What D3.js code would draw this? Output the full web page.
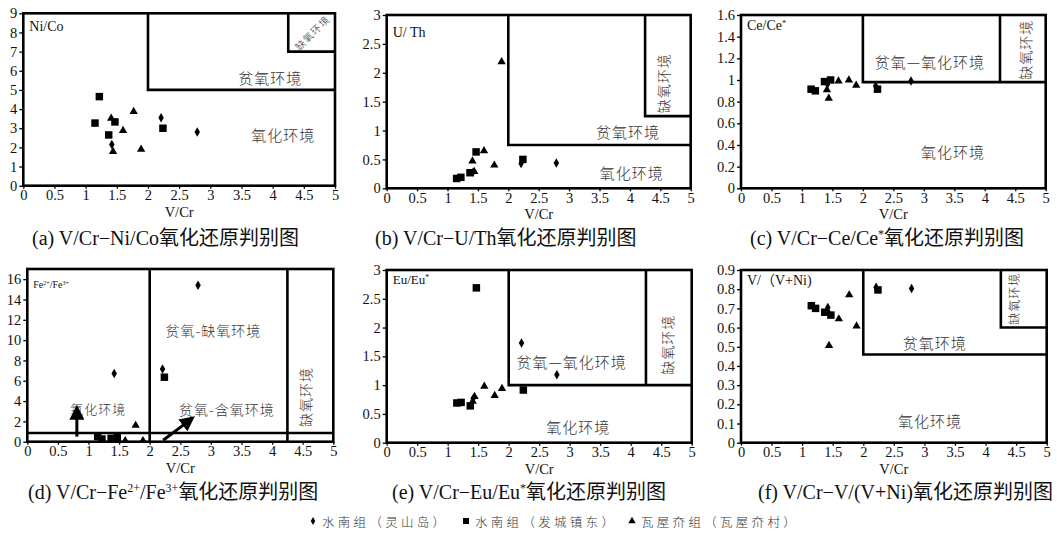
<!DOCTYPE html>
<html><head><meta charset="utf-8">
<script src="https://cdn.jsdelivr.net/npm/d3@7"></script>
<style>
body{margin:0;background:#fff;}
svg{display:block;}
.serif{font-family:"Liberation Serif","DejaVu Serif","Noto Sans CJK SC",serif;}
.cjk{font-family:"Noto Sans CJK SC",sans-serif;}
</style></head><body>
<svg id="fig" width="1057" height="538"></svg>
<script>
// V/Cr of each sample group (shared horizontal variable of all six diagrams)
const vcrLingshan = [1.42, 2.21, 2.79];             // 水南组（灵山岛）
const vcrFacheng  = [1.15, 1.22, 1.37, 1.47, 2.24]; // 水南组（发城镇东）
const vcrWawu     = [1.41, 1.44, 1.60, 1.77, 1.89]; // 瓦屋夼组（瓦屋夼村）

// (a) Ni/Co
const niCoLingshan = [2.15, 3.55, 2.80];
const niCoFacheng  = [3.27, 4.65, 2.65, 3.33, 3.00];
const niCoWawu     = [3.52, 1.78, 2.88, 3.87, 1.90];
// (b) U/Th
const uThLingshan = [0.28, 0.43, 0.44];
const uThFacheng  = [0.17, 0.19, 0.27, 0.63, 0.50];
const uThWawu     = [0.47, 0.29, 0.65, 0.40, 2.19];
// (c) Ce/Ce*
const ceLingshan = [0.96, 0.945, 0.99];
const ceFacheng  = [0.915, 0.90, 0.985, 1.00, 0.915];
const ceWawu     = [0.91, 0.83, 0.99, 1.00, 0.95];
// (d) Fe2+/Fe3+
const feLingshan = [6.72, 7.15, 15.4];
const feFacheng  = [0.50, 0.26, 0.33, 0.43, 6.35];
const feWawu     = [0.20, 0.12, 0.10, 1.60, 0.10];
// (e) Eu/Eu*
const euLingshan = [0.77, 1.73, 1.18];
const euFacheng  = [0.69, 0.70, 0.64, 2.69, 0.915];
const euWawu     = [0.72, 0.80, 0.98, 0.82, 0.94];
// (f) V/(V+Ni)
const vvniLingshan = [0.705, 0.81, 0.804];
const vvniFacheng  = [0.714, 0.70, 0.68, 0.665, 0.796];
const vvniWawu     = [0.69, 0.506, 0.645, 0.77, 0.608];

const xTicks = [0, 0.5, 1, 1.5, 2, 2.5, 3, 3.5, 4, 4.5, 5];
const yTicksA = [0,1,2,3,4,5,6,7,8,9];
const yTicksB = [0,0.5,1,1.5,2,2.5,3];
const yTicksC = [0,0.2,0.4,0.6,0.8,1,1.2,1.4,1.6];
const yTicksD = [0,2,4,6,8,10,12,14,16];
const yTicksE = [0,0.5,1,1.5,2,2.5,3];
const yTicksF = [0,0.1,0.2,0.3,0.4,0.5,0.6,0.7,0.8,0.9];

// boundary lines between redox fields, in data units
const zonesA = [[[2,9],[2,5],[5,5]], [[4.25,9],[4.25,7],[5,7]]];
const zonesB = [[[2,3],[2,0.75],[5,0.75]], [[4.25,3],[4.25,1.25],[5,1.25]]];
const zonesC = [[[2,1.6],[2,0.98],[5,0.98]], [[4.25,1.6],[4.25,0.98]]];
const zonesD = [[[2,0],[2,17]], [[4.25,0],[4.25,17]], [[0,0.85],[5,0.85]]];
const zonesE = [[[2,3],[2,1],[5,1]], [[4.25,3],[4.25,1]]];
const zonesF = [[[2,0.9],[2,0.46],[5,0.46]], [[4.25,0.9],[4.25,0.6],[5,0.6]]];

// field names: text, x, y, rotation
const namesA = [["贫氧环境",3.96,5.67,0],["氧化环境",4.17,2.65,0],["缺氧环境",4.63,8.0,-45]];
const namesB = [["贫氧环境",3.97,0.98,0],["氧化环境",4.03,0.27,0],["缺氧环境",4.55,1.82,-90]];
const namesC = [["贫氧—氧化环境",3.1,1.17,0],["缺氧环境",4.66,1.28,-90],["氧化环境",3.48,0.34,0]];
const namesD = [["贫氧-缺氧环境",3.04,10.98,0],["氧化环境",1.16,3.28,0],["贫氧-含氧环境",3.26,3.2,0],["缺氧环境",4.54,4.4,-90]];
const namesE = [["贫氧—氧化环境",3.03,1.41,0],["氧化环境",3.14,0.28,0],["缺氧环境",4.59,1.7,-90]];
const namesF = [["贫氧环境",3.17,0.52,0],["氧化环境",3.09,0.118,0],["缺氧环境",4.45,0.75,-90]];

// trend arrows of diagram (d)
const arrowsD = [[[0.81,0.5],[0.81,2.9]], [[2.22,0.15],[2.64,2.05]]];

const captionsTop = [
  [["(a) V/Cr−Ni/Co氧化还原判别图"]],
  [["(b) V/Cr−U/Th氧化还原判别图"]],
  [["(c) V/Cr−Ce/Ce"],["*",1],["氧化还原判别图"]]
];
const captionsBottom = [
  [["(d) V/Cr−Fe"],["2+",1],["/Fe"],["3+",1],["氧化还原判别图"]],
  [["(e) V/Cr−Eu/Eu"],["*",1],["氧化还原判别图"]],
  [["(f) V/Cr−V/(V+Ni)氧化还原判别图"]]
];
const legendNames = ["水南组（灵山岛）", "水南组（发城镇东）", "瓦屋夼组（瓦屋夼村）"];

const panels = [
  {box:[23.3,335,13.3,185.7], ymax:9, yt:yTicksA, zones:zonesA, names:namesA, nameSize:[15,15,10],
   title:[["Ni/Co"]], titleSize:14, titleDy:18,
   series:[niCoLingshan,niCoFacheng,niCoWawu]},
  {box:[386.7,690.7,15,188.3], ymax:3, yt:yTicksB, zones:zonesB, names:namesB, nameSize:[15,15,14],
   title:[["U/ Th"]], titleSize:14, titleDy:22,
   series:[uThLingshan,uThFacheng,uThWawu]},
  {box:[741,1045.7,15,188.3], ymax:1.6, yt:yTicksC, zones:zonesC, names:namesC, nameSize:[15,14,15],
   title:[["Ce/Ce"],["*",1]], titleSize:14, titleDy:15,
   series:[ceLingshan,ceFacheng,ceWawu]},
  {box:[27.3,333.3,269,441.7], ymax:17, yt:yTicksD, zones:zonesD, names:namesD, nameSize:[14,13,14,14],
   title:[["Fe"],["2+",1],["/Fe"],["3+",1]], titleSize:10, titleDy:19,
   series:[feLingshan,feFacheng,feWawu], arrows:arrowsD},
  {box:[386.7,691.7,270,442.7], ymax:3, yt:yTicksE, zones:zonesE, names:namesE, nameSize:[15,15,14],
   title:[["Eu/Eu"],["*",1]], titleSize:13, titleDy:14,
   series:[euLingshan,euFacheng,euWawu]},
  {box:[741,1046.7,270,442.7], ymax:0.9, yt:yTicksF, zones:zonesF, names:namesF, nameSize:[15,15,12],
   title:[["V/（V+Ni)"]], titleSize:14, titleDy:15,
   series:[vvniLingshan,vvniFacheng,vvniWawu]}
];

const xSets = [vcrLingshan, vcrFacheng, vcrWawu];
const symbolTypes = [d3.symbolDiamond, d3.symbolSquare, d3.symbolTriangle];
const symbols = [
  d3.symbol().type(d3.symbolDiamond).size(26),
  d3.symbol().type(d3.symbolSquare).size(56),
  d3.symbol().type(d3.symbolTriangle).size(30)
];

const svg = d3.select("#fig");

svg.append("defs").append("marker")
  .attr("id","head").attr("viewBox","0 0 10 10").attr("refX",5).attr("refY",5)
  .attr("markerWidth",5).attr("markerHeight",5).attr("orient","auto")
  .append("path").attr("d","M0,0 L10,5 L0,10 Z").attr("fill","#000");

// text with optional superscript segments
function richText(sel, parts, size) {
  parts.forEach(p => {
    const t = sel.append("tspan").text(p[0]);
    if (p[1]) t.attr("baseline-shift","super").style("font-size", (size*0.6)+"px");
  });
}

panels.forEach(p => {
  const [l, r, t, b] = p.box;
  const x = d3.scaleLinear().domain([0,5]).range([l,r]);
  const y = d3.scaleLinear().domain([0,p.ymax]).range([b,t]);
  const g = svg.append("g");

  const xa = g.append("g").attr("transform",`translate(0,${b})`)
    .call(d3.axisBottom(x).tickValues(xTicks).tickFormat(d3.format("~g")).tickSize(3).tickPadding(1));
  const ya = g.append("g").attr("transform",`translate(${l},0)`)
    .call(d3.axisLeft(y).tickValues(p.yt).tickFormat(d3.format("~g")).tickSize(4).tickPadding(2));
  [xa, ya].forEach(a => {
    a.attr("font-family",null).attr("font-size",null);
    a.select(".domain").remove();
    a.selectAll("line").attr("stroke","#000").attr("stroke-width",1.3);
    a.selectAll("text").attr("class","serif").style("font-size","14.5px").attr("fill","#111");
  });

  g.append("text").attr("class","serif").attr("x",(l+r)/2).attr("y",b+31).attr("text-anchor","middle")
    .style("font-size","14.5px").attr("fill","#111").text("V/Cr");

  const tt = g.append("text").attr("class","serif").attr("x",l+6).attr("y",t+p.titleDy)
    .style("font-size",p.titleSize+"px").attr("fill","#111");
  richText(tt, p.title, p.titleSize);

  const line = d3.line().x(d => x(d[0])).y(d => y(d[1]));
  g.selectAll(".zone").data(p.zones).join("path")
    .attr("d", line).attr("fill","none").attr("stroke","#000").attr("stroke-width",2.6);

  g.selectAll(".name").data(p.names).join("text")
    .attr("class","cjk")
    .attr("transform", d => `translate(${x(d[1])},${y(d[2])}) rotate(${d[3]})`)
    .attr("text-anchor","middle").attr("dominant-baseline","central")
    .style("font-weight",300)
    .style("font-size",(d,i) => p.nameSize[i]+"px").attr("letter-spacing",1)
    .attr("fill","#333").text(d => d[0]);

  if (p.arrows) {
    g.selectAll(".arrow").data(p.arrows).join("path")
      .attr("d", line).attr("stroke","#000").attr("stroke-width",3)
      .attr("marker-end","url(#head)");
  }

  p.series.forEach((ys, s) => {
    g.selectAll(null).data(ys.map((v,i) => [xSets[s][i], v])).join("path")
      .attr("transform", d => `translate(${x(d[0])},${y(d[1])})`)
      .attr("d", symbols[s]).attr("fill","#000");
  });

  g.append("rect").attr("x",l).attr("y",t).attr("width",r-l).attr("height",b-t)
    .attr("fill","none").attr("stroke","#000").attr("stroke-width",2.6);
});

// captions
const capX = [[32,375,750],[28,392,758]];
[captionsTop, captionsBottom].forEach((row, ri) => {
  row.forEach((parts, i) => {
    const t = svg.append("text").attr("class","serif").attr("x",capX[ri][i]).attr("y", ri ? 499 : 245)
      .style("font-size","20px").attr("fill","#111");
    richText(t, parts, 20);
  });
});

// legend
const legX = [313, 466, 632];
legendNames.forEach((name, i) => {
  svg.append("path").attr("transform",`translate(${legX[i]},521)`)
    .attr("d", d3.symbol().type(symbolTypes[i]).size([18,36,24][i]))
    .attr("fill","#000");
  svg.append("text").attr("class","cjk").attr("x",legX[i]+9).attr("y",521).attr("dominant-baseline","central")
    .style("font-weight",300).style("font-size","12.5px").attr("letter-spacing",3.3)
    .attr("fill","#333").text(name);
});
</script>
</body></html>
